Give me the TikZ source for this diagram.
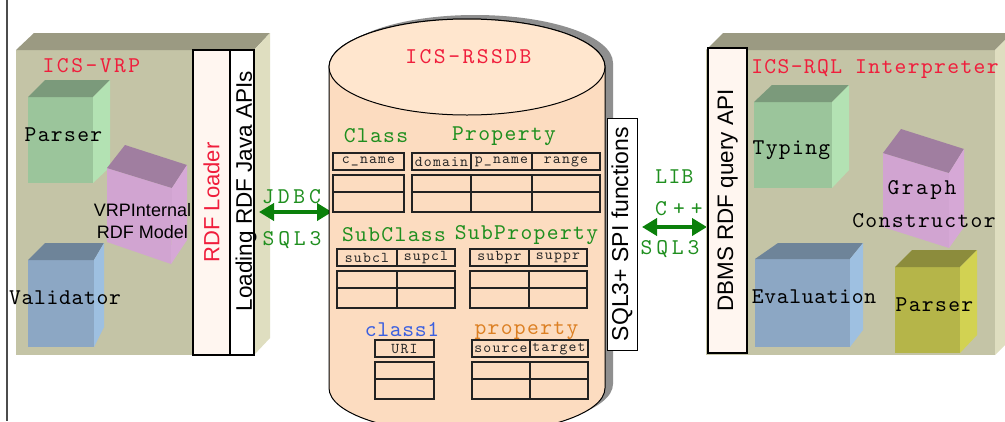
\documentclass[tikz,border=0pt]{standalone}
\usepackage{fontspec}
\setmainfont{Liberation Sans}
\newfontfamily\sansF{Liberation Sans}
\newfontfamily\monoA{lmmono10-regular.otf}[LetterSpace=3]
\newfontfamily\monoB{lmmono10-regular.otf}[LetterSpace=6]
\newfontfamily\monoC{lmmono10-regular.otf}[LetterSpace=11]
\newfontfamily\monoD{lmmono10-regular.otf}[LetterSpace=17]
\newfontfamily\monoE{lmmono10-regular.otf}[LetterSpace=27]
\newfontfamily\monoS{lmmono10-regular.otf}[LetterSpace=8]
\usetikzlibrary{arrows.meta}
\definecolor{boxF}{HTML}{C4C4A6}
\definecolor{boxT}{HTML}{9B9A82}
\definecolor{boxS}{HTML}{DFDEC0}
\definecolor{grF}{HTML}{9BC59B}
\definecolor{grT}{HTML}{7B9A7B}
\definecolor{grS}{HTML}{B3E2B3}
\definecolor{blF}{HTML}{8CA7C4}
\definecolor{blT}{HTML}{6E8499}
\definecolor{blS}{HTML}{9EC0E1}
\definecolor{pkF}{HTML}{D1A4D1}
\definecolor{pkT}{HTML}{A07EA0}
\definecolor{pkS}{HTML}{D6A8D6}
\definecolor{olF}{HTML}{B5B549}
\definecolor{olT}{HTML}{8C8C3C}
\definecolor{olS}{HTML}{D2D252}
\definecolor{cylBody}{HTML}{FCDCC0}
\definecolor{cylTop}{HTML}{FFE6CE}
\definecolor{shadowC}{HTML}{8F8F8F}
\definecolor{paleF}{HTML}{FFF6F0}
\definecolor{redT}{HTML}{F01E3C}
\definecolor{greenT}{HTML}{1F8F1F}
\definecolor{arrowG}{HTML}{0B800B}
\definecolor{blueT}{HTML}{3A5FE0}
\definecolor{orangeT}{HTML}{DC8024}
\definecolor{tblC}{HTML}{222222}
\newcommand\dbtab[3]{%
  \draw[cell] (#1,#3) rectangle (#2,#3+17);
  \draw[cell] (#1,#3+22) rectangle (#2,#3+59);
  \draw[cell] (#1,#3+39) -- (#2,#3+39);}
\newcommand\dbdiv[2]{%
  \draw[cell] (#1,#2) -- (#1,#2+17);
  \draw[cell] (#1,#2+22) -- (#1,#2+59);}
\begin{document}
\begin{tikzpicture}[x=1pt,y=-1pt,
  lbl/.style={inner sep=0pt},
  ttA/.style={lbl,font=\monoA\fontsize{22.5}{26}\selectfont},
  ttB/.style={lbl,font=\monoB\fontsize{22.5}{26}\selectfont},
  ttC/.style={lbl,font=\monoC\fontsize{22.5}{26}\selectfont},
  ttD/.style={lbl,font=\monoD\fontsize{22.5}{26}\selectfont},
  ttE/.style={lbl,font=\monoE\fontsize{22.5}{26}\selectfont},
  ttS/.style={lbl,font=\monoS\fontsize{15}{17}\selectfont,text=black!85},
  cell/.style={draw=tblC, line width=1.3pt},
  sbox/.style={draw=black, line width=2pt, inner sep=0pt},
  garrow/.style={draw=arrowG, line width=4.5pt,
    arrows={Triangle[length=15pt,width=17pt]-Triangle[length=15pt,width=17pt]}},
]
\clip (0,0) rectangle (1005,421);
\fill[white] (0,0) rectangle (1005,421);
\draw[line width=1.2pt, black!70] (7,0) -- (7,421);

% ---------- left box ICS-VRP ----------
\fill[boxF] (16,50) rectangle (254,355);
\fill[boxT] (16,50) -- (34,33) -- (270,33) -- (254,50) -- cycle;
\fill[boxS] (254,50) -- (270,33) -- (270,338) -- (254,355) -- cycle;
\node[ttC, text=redT] (vrp) at (91.5,66) {ICS-VRP};

% Parser cube
\fill[grF] (28,97) rectangle (93,183);
\fill[grT] (28,97) -- (45,80) -- (110,80) -- (93,97) -- cycle;
\fill[grS] (93,97) -- (110,80) -- (110,167) -- (93,183) -- cycle;
% Pink model box
\fill[pkF] (107,168) -- (172,188) -- (171,264) -- (107,242) -- cycle;
\fill[pkT] (107,168) -- (125,145) -- (187,165) -- (172,188) -- cycle;
\fill[pkS] (172,188) -- (187,165) -- (187,240) -- (171,264) -- cycle;
% Validator cube
\fill[blF] (28,260) rectangle (94,347);
\fill[blT] (28,260) -- (45,243) -- (104,243) -- (94,260) -- cycle;
\fill[blS] (94,260) -- (104,243) -- (104,327) -- (94,347) -- cycle;

\node[ttB] (parserL) at (63.5,135) {Parser};
\node[lbl, font=\sansF\fontsize{18}{22}\selectfont, align=center] (model) at (142.5,221) {VRPInternal\\RDF Model};
\node[ttA] (valid) at (65,298) {Validator};

\node[sbox, fill=paleF, rotate=90, minimum width=305pt, minimum height=37pt,
  font=\sansF\fontsize{22}{26}\selectfont, text=redT] (loader) at (211.5,202.5) {RDF Loader};
\node[sbox, fill=white, rotate=90, minimum width=305pt, minimum height=24pt] (loadbox) at (242,202.5) {};
\node[lbl, rotate=90, font=\sansF\fontsize{22.5}{26}\selectfont] (loadtxt) at (246,191) {Loading RDF Java APIs};

% ---------- arrow JDBC ----------
\coordinate (jl) at (259,212);
\coordinate (jr) at (332,212);
\draw[garrow] (jl) -- (jr);
\node[ttD, text=greenT] (jdbc) at (291.5,197) {JDBC};
\node[ttD, text=greenT] (sqlL) at (292,240) {SQL3};

% ---------- cylinder ICS-RSSDB ----------
\fill[shadowC, shift={(8,-4)}] (329,67) -- (329,388)
  arc[start angle=180, end angle=360, x radius=138pt, y radius=46pt]
  -- (605,67) arc[start angle=0, end angle=180, x radius=138pt, y radius=48pt] -- cycle;
\filldraw[fill=cylBody, draw=black, line width=1pt] (329,67) -- (329,388)
  arc[start angle=180, end angle=360, x radius=138pt, y radius=46pt]
  -- (605,67) arc[start angle=0, end angle=180, x radius=138pt, y radius=48pt] -- cycle;
\filldraw[fill=cylTop, draw=black, line width=1pt] (467,67) ellipse [x radius=138pt, y radius=48pt];
\node[ttC, text=redT] (rssdb) at (468.5,57) {ICS-RSSDB};

\node[ttB, text=greenT] (tClass) at (376,136) {Class};
\node[ttB, text=greenT] (tProp) at (504,136) {Property};
\dbtab{333}{404}{153}
\dbtab{412}{600}{153}
\dbdiv{471}{153}
\dbdiv{532}{153}
\node[ttS] (h1) at (368.5,161.5) {c\_name};
\node[ttS] (h2) at (441.5,161.5) {domain};
\node[ttS] (h3) at (501.5,161.5) {p\_name};
\node[ttS] (h4) at (566,161.5) {range};

\node[ttB, text=greenT] (tSubC) at (394,235) {SubClass};
\node[ttB, text=greenT] (tSubP) at (526.5,235) {SubProperty};
\dbtab{337}{455}{249}
\dbdiv{397}{249}
\dbtab{470}{587}{249}
\dbdiv{529}{249}
\node[ttS] (h5) at (367,257.5) {subcl};
\node[ttS] (h6) at (426,257.5) {supcl};
\node[ttS] (h7) at (499.5,257.5) {subpr};
\node[ttS] (h8) at (558,257.5) {suppr};

\node[ttA, text=blueT] (tClass1) at (402,330) {class1};
\node[ttB, text=orangeT] (tProp2) at (526.5,331) {property};
\dbtab{375}{434}{340}
\dbtab{472}{588}{340}
\dbdiv{530}{340}
\node[ttS] (h9) at (404.5,349) {URI};
\node[ttS] (h10) at (501,349) {source};
\node[ttS] (h11) at (559,349) {target};

\node[draw=black, line width=1pt, fill=white, inner sep=0pt, rotate=90,
  minimum width=232pt, minimum height=30pt, font=\sansF\fontsize{23}{27}\selectfont] (spi) at (622,234) {SQL3+ SPI functions};

% ---------- arrow LIB ----------
\coordinate (ll) at (642,227);
\coordinate (lr) at (707,227);
\draw[garrow] (ll) -- (lr);
\node[ttB, text=greenT] (lib) at (674.5,177) {LIB};
\node[ttE, text=greenT] (cpp) at (679,209) {C++};
\node[ttD, text=greenT] (sqlR) at (670,249) {SQL3};

% ---------- right box ICS-RQL ----------
\fill[boxF] (706,50) rectangle (995,355);
\fill[boxT] (706,50) -- (723,33) -- (1012,33) -- (995,50) -- cycle;
\fill[boxS] (995,50) -- (1012,33) -- (1012,338) -- (995,355) -- cycle;
\node[sbox, fill=paleF, rotate=90, minimum width=305pt, minimum height=39pt,
  font=\sansF\fontsize{22.4}{26}\selectfont] (dbms) at (727.5,200.5) {DBMS RDF query API};
\node[ttB, text=redT] (rql) at (875,69) {ICS-RQL Interpreter};

% Typing cube
\fill[grF] (754,102) rectangle (832,188);
\fill[grT] (754,102) -- (772,85) -- (849,85) -- (832,102) -- cycle;
\fill[grS] (832,102) -- (849,85) -- (849,170) -- (832,188) -- cycle;
% Graph constructor
\fill[pkF] (883,153) -- (949,173) -- (949,248) -- (883,227) -- cycle;
\fill[pkT] (883,153) -- (901,129) -- (964,149) -- (949,173) -- cycle;
\fill[pkS] (949,173) -- (964,149) -- (964,227) -- (949,248) -- cycle;
% Evaluation cube
\fill[blF] (755,259) rectangle (850,347);
\fill[blT] (755,259) -- (778,243) -- (863,243) -- (850,259) -- cycle;
\fill[blS] (850,259) -- (863,243) -- (863,330) -- (850,347) -- cycle;
% Parser cube (olive)
\fill[olF] (895,267) rectangle (960,353);
\fill[olT] (895,267) -- (912,250) -- (977,250) -- (960,267) -- cycle;
\fill[olS] (960,267) -- (977,250) -- (977,335) -- (960,353) -- cycle;

\node[ttB] (typing) at (791.5,150) {Typing};
\node[ttC] (graph) at (922,190) {Graph};
\node[ttB] (constr) at (924,221) {Constructor};
\node[ttA] (evalu) at (814,297) {Evaluation};
\node[ttB] (parserR) at (934.5,305) {Parser};
\end{tikzpicture}
\end{document}
